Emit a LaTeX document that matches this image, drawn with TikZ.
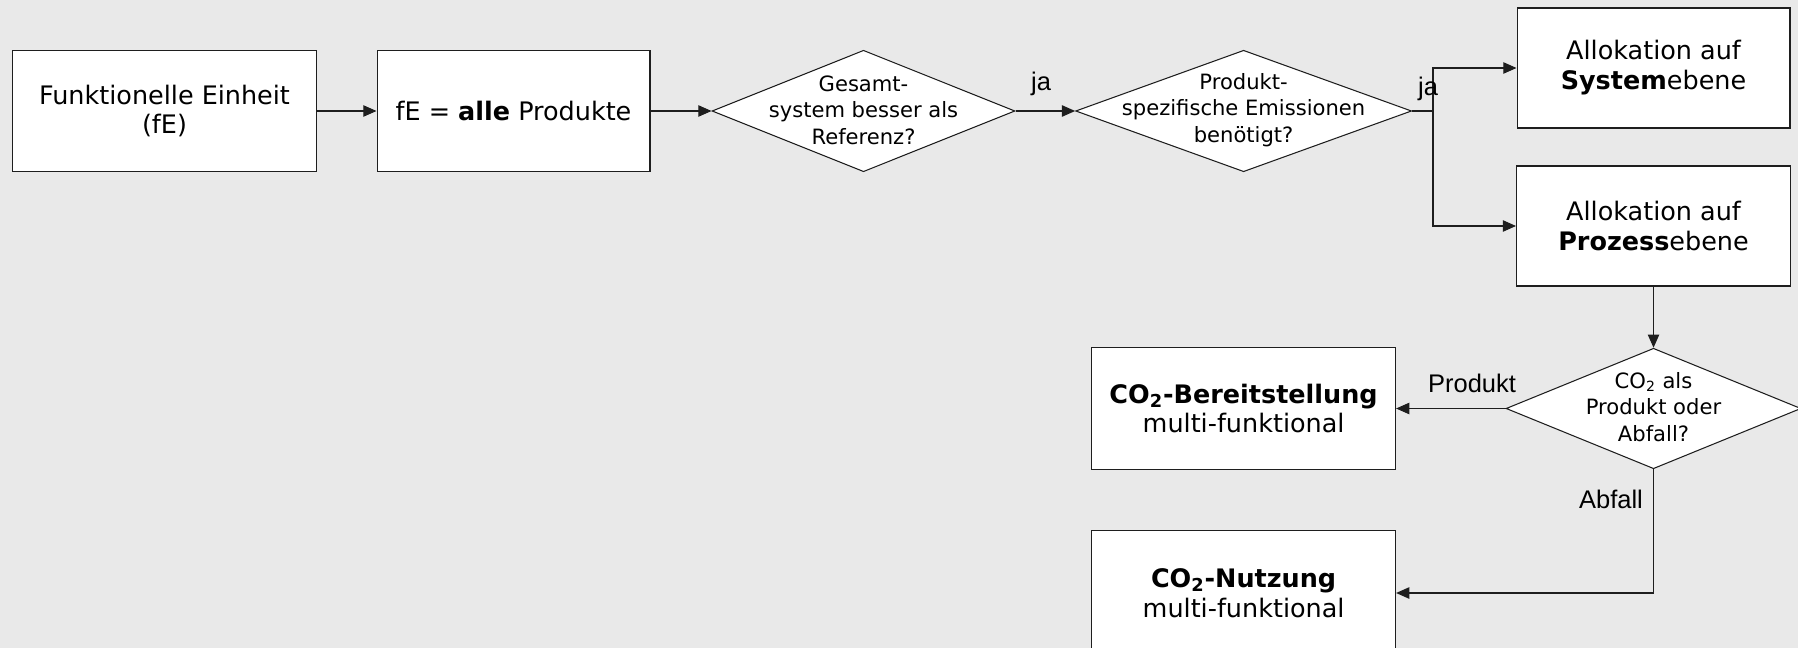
\documentclass[tikz,border=0pt]{standalone}
\usepackage{fontspec}
\setmainfont{DejaVu Sans}
\newfontfamily\arialfont{Liberation Sans}
\usetikzlibrary{shapes.geometric,arrows.meta}
\definecolor{bggrey}{HTML}{E9E9E9}
\definecolor{linegrey}{HTML}{1E1E1E}
\tikzstyle{box}=[rectangle,fill=white,draw=linegrey,line width=0.6pt,minimum width=6.08cm,minimum height=2.43cm,inner sep=0pt,align=center,font=\fontsize{14.5}{17}\selectfont]
\tikzstyle{decision}=[diamond,fill=white,draw=linegrey,line width=0.6pt,minimum height=2.43cm,inner sep=0pt]
\tikzstyle{qtext}=[inner sep=0pt,align=center,font=\fontsize{12}{15}\selectfont]
\tikzstyle{answer}=[inner sep=0pt,font=\arialfont\fontsize{14.5}{17}\selectfont]
\tikzstyle{flow}=[-{Triangle[length=7.5pt,width=6.5pt]},draw=linegrey,line width=0.6pt]
\tikzstyle{plain}=[-,draw=linegrey,line width=0.6pt]
\pgfdeclarelayer{bglayer}
\pgfdeclarelayer{edgelayer}
\pgfdeclarelayer{nodelayer}
\pgfsetlayers{bglayer,edgelayer,nodelayer,main}

\begin{document}
\begin{tikzpicture}[x=0.02cm,y=-0.02cm]
	\useasboundingbox (0,0) rectangle (1798,648);
	\begin{pgfonlayer}{bglayer}
		\fill [bggrey] (0,0) rectangle (1798,648);
	\end{pgfonlayer}
	\begin{pgfonlayer}{nodelayer}
		\node [style=box] (fe) at (164.5, 111) {Funktionelle Einheit\\(fE)};
		\node [style=box, minimum width=5.46cm] (alle) at (513.5, 111) {fE = \textbf{alle} Produkte};
		\node [style=decision, minimum width=6.06cm] (gesamt) at (863.5, 111) {};
		\node [style=qtext] (gesamttxt) at (863.5, 110) {Gesamt-\\system besser als\\Referenz?};
		\node [style=decision, minimum width=6.72cm] (spez) at (1243.6, 111) {};
		\node [style=qtext] (speztxt) at (1243.6, 110) {Produkt-\\spezifische Emissionen\\benötigt?};
		\node [style=box, minimum width=5.46cm, minimum height=2.40cm] (sys) at (1653.5, 68) {Allokation auf\\\textbf{System}ebene};
		\node [style=box, minimum width=5.48cm, minimum height=2.40cm] (proz) at (1653.5, 226) {Allokation auf\\\textbf{Prozess}ebene};
		\node [style=decision, minimum width=5.9cm, minimum height=2.41cm] (co2q) at (1653.5, 408.5) {};
		\node [style=qtext] (co2qtxt) at (1653.5, 407) {CO\textsubscript{2} als\\Produkt oder\\Abfall?};
		\node [style=box] (bereit) at (1243.6, 408.5) {\textbf{CO\textsubscript{2}-Bereitstellung}\\multi-funktional};
		\node [style=box, minimum height=2.5cm] (nutz) at (1243.6, 593) {\textbf{CO\textsubscript{2}-Nutzung}\\multi-funktional};
		\coordinate (split) at (1433, 111);
		\node [style=answer] (ja1) at (1041, 84) {ja};
		\node [style=answer] (ja2) at (1428, 89) {ja};
		\node [style=answer] (prod) at (1472, 383) {Produkt};
		\node [style=answer] (abf) at (1611, 499) {Abfall};
	\end{pgfonlayer}
	\begin{pgfonlayer}{edgelayer}
		\draw [style=flow] (fe) to (alle);
		\draw [style=flow] (alle) to (gesamt);
		\draw [style=flow] (gesamt) to (spez);
		\draw [style=plain] (spez.east) to (split);
		\draw [style=flow] (split) |- (sys.west);
		\draw [style=flow] (split) |- (proz.west);
		\draw [style=flow] (proz) to (co2q);
		\draw [style=flow] (co2q) to (bereit);
		\draw [style=flow] (co2q.south) |- (nutz.east);
	\end{pgfonlayer}
\end{tikzpicture}
\end{document}
